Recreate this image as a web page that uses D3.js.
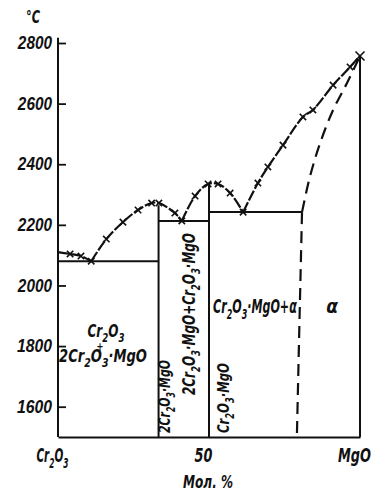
<!DOCTYPE html>
<html>
<head>
<meta charset="utf-8">
<script src="https://cdn.jsdelivr.net/npm/d3@7"></script>
<style>
  body { margin: 0; background: #fff; }
  svg text { font-family: "DejaVu Sans Condensed", "DejaVu Sans", sans-serif; font-style: italic; fill: #111; }
</style>
</head>
<body>
<div id="chart"></div>
<script>
// mol.% MgO vs temperature
var yTicks = [1600, 1800, 2000, 2200, 2400, 2600, 2800];
var xTicks = [0, 50, 100];
var xTickLabels = ["Cr_2O_3", "50", "MgO"];

// liquidus, split at the eutectics
var liquidus1 = [[0, 2110], [4, 2104], [7.6, 2097], [11, 2080]];
var liquidus2 = [[11, 2080], [16, 2153], [21.5, 2209], [26.5, 2249], [31, 2272], [33.4, 2272], [38.7, 2239], [41, 2213]];
var liquidus3 = [[41, 2213], [45.4, 2295], [49.7, 2335], [53, 2335], [57, 2305], [61.3, 2242]];
var liquidus4 = [[61.3, 2242], [66.2, 2338], [69.5, 2391], [74.5, 2463], [81.1, 2556], [84.4, 2579], [91.1, 2661], [96.7, 2721], [100, 2757]];

// eutectic horizontals: [from, to, temp]
var eutectics = [[0, 33.3, 2080], [33.3, 50, 2213], [50, 80.8, 2242]];
// compound / end member verticals: [mol%, top temp]
var compounds = [[33.3, 2265], [50, 2335], [100, 2757]];

var solidus = [[80.8, 2242], [83.4, 2358], [86.8, 2470], [91.1, 2579], [95.7, 2668], [100, 2757]];
var solvus = [[80.8, 2242], [80, 1900], [79.1, 1500]];

var width = 377, height = 495;

var svg = d3.select("#chart").append("svg")
    .attr("width", width)
    .attr("height", height);

var x = d3.scaleLinear().domain([0, 100]).range([58, 360]);
var y = d3.scaleLinear().domain([1500, 2800]).range([437, 43]);

function richText(sel, str, fs) {
  var parts = str.split(/(_.)/).filter(function (s) { return s.length; });
  var down = false;
  parts.forEach(function (p) {
    if (p[0] === "_") {
      sel.append("tspan").attr("dy", fs * 0.3).attr("font-size", fs * 0.72).text(p[1]);
      down = true;
    } else {
      sel.append("tspan").attr("dy", down ? -fs * 0.3 : 0).text(p);
      down = false;
    }
  });
}

// squeeze a text horizontally to the width it has in the figure
function squeeze(node, w) {
  var bw = node.getBBox().width;
  return bw ? w / bw : 1;
}

// y axis
var yAxis = d3.axisLeft(y).tickValues(yTicks).tickSizeInner(-8).tickSizeOuter(0).tickPadding(0)
    .tickFormat(d3.format("d"));
var gy = svg.append("g").attr("transform", "translate(" + x(0) + ",0)").call(yAxis);
gy.select(".domain").remove();
gy.selectAll(".tick line").attr("stroke", "#111").attr("stroke-width", 1.8);
gy.selectAll(".tick text")
    .attr("font-size", 18)
    .attr("font-weight", "bold")
    .attr("x", 0)
    .style("font-family", "inherit")
    .each(function () {
      var s = squeeze(this, 35);
      d3.select(this).attr("transform", "translate(-6,0) scale(" + s + ",1)");
    });

svg.append("line")
    .attr("x1", x(0)).attr("x2", x(0))
    .attr("y1", y(2817)).attr("y2", y(1500))
    .attr("stroke", "#111").attr("stroke-width", 2);

// free-standing labels
function label(str, px, py, fs, anchor, w, rot) {
  var t = svg.append("text")
      .attr("font-size", fs).attr("font-weight", "bold")
      .attr("text-anchor", anchor);
  richText(t, str, fs);
  var s = squeeze(t.node(), w);
  t.attr("transform", "translate(" + px + "," + py + ")" + (rot ? " rotate(-90)" : "") + " scale(" + s + ",1)");
  return t;
}

label("°C", 33, 23, 18, "middle", 14);

// x axis
var xAxis = d3.axisBottom(x).tickValues(xTicks).tickSize(0).tickFormat(function () { return ""; });
var gx = svg.append("g").attr("transform", "translate(0," + y(1500) + ")").call(xAxis);
gx.select(".domain").attr("stroke", "#111").attr("stroke-width", 2);
gx.selectAll(".tick text").remove();
var xLabelW = [32, 18, 33];
gx.selectAll(".tick").each(function (d, i) {
  var t = d3.select(this).append("text")
      .attr("font-size", 19).attr("font-weight", "bold")
      .attr("text-anchor", "middle");
  richText(t, xTickLabels[i], 19);
  var s = squeeze(t.node(), xLabelW[i]);
  t.attr("transform", "translate(-6,25) scale(" + s + ",1)");
});

label("Мол. %", 208, 488, 18, "middle", 50);

// phase boundaries
var line = d3.line().x(function (d) { return x(d[0]); }).y(function (d) { return y(d[1]); });
var curve = d3.line().curve(d3.curveCatmullRom).x(function (d) { return x(d[0]); }).y(function (d) { return y(d[1]); });

svg.selectAll("line.eut").data(eutectics).enter().append("line")
    .attr("class", "eut")
    .attr("x1", function (d) { return x(d[0]); })
    .attr("x2", function (d) { return x(d[1]); })
    .attr("y1", function (d) { return y(d[2]); })
    .attr("y2", function (d) { return y(d[2]); })
    .attr("stroke", "#111").attr("stroke-width", 2);

svg.selectAll("line.cmp").data(compounds).enter().append("line")
    .attr("class", "cmp")
    .attr("x1", function (d) { return x(d[0]); })
    .attr("x2", function (d) { return x(d[0]); })
    .attr("y1", function (d) { return y(d[1]); })
    .attr("y2", y(1500))
    .attr("stroke", "#111").attr("stroke-width", 2);

svg.selectAll("path.liq").data([liquidus1, liquidus2, liquidus3, liquidus4]).enter().append("path")
    .attr("class", "liq")
    .attr("d", curve)
    .attr("fill", "none").attr("stroke", "#111").attr("stroke-width", 2.2)
    .attr("stroke-dasharray", "11,2");

svg.selectAll("path.sol").data([solidus, solvus]).enter().append("path")
    .attr("class", "sol")
    .attr("d", function (d, i) { return i ? line(d) : curve(d); })
    .attr("fill", "none").attr("stroke", "#111").attr("stroke-width", 2.2)
    .attr("stroke-dasharray", "12,7");

// x markers on measured liquidus points
var measured = [].concat(liquidus1, liquidus2.slice(1), liquidus3.slice(1), liquidus4.slice(1))
    .filter(function (d) { return d[0] > 0; });
svg.selectAll("path.mark").data(measured).enter().append("path")
    .attr("class", "mark")
    .attr("d", function (d) {
      var cx = x(d[0]), cy = y(d[1]), s = d[0] === 100 ? 4.5 : 3.2;
      return "M" + (cx - s) + "," + (cy - s) + "L" + (cx + s) + "," + (cy + s) +
             "M" + (cx - s) + "," + (cy + s) + "L" + (cx + s) + "," + (cy - s);
    })
    .attr("stroke", "#111").attr("stroke-width", 1.6);

// region labels
label("Cr_2O_3", 106, 337, 18, "middle", 37);
label("+", 100, 351, 13, "middle", 7);
label("2Cr_2O_3·MgO", 103, 362, 18, "middle", 88);
label("2Cr_2O_3·MgO", 170, 433, 16, "start", 73, true);
label("2Cr_2O_3·MgO+Cr_2O_3·MgO", 195, 314, 17, "middle", 162, true);
label("Cr_2O_3·MgO", 229, 433, 16, "start", 70, true);
label("Cr_2O_3·MgO+α", 213, 313, 19, "start", 84);
label("α", 332, 313, 19, "middle", 12);
</script>
</body>
</html>
